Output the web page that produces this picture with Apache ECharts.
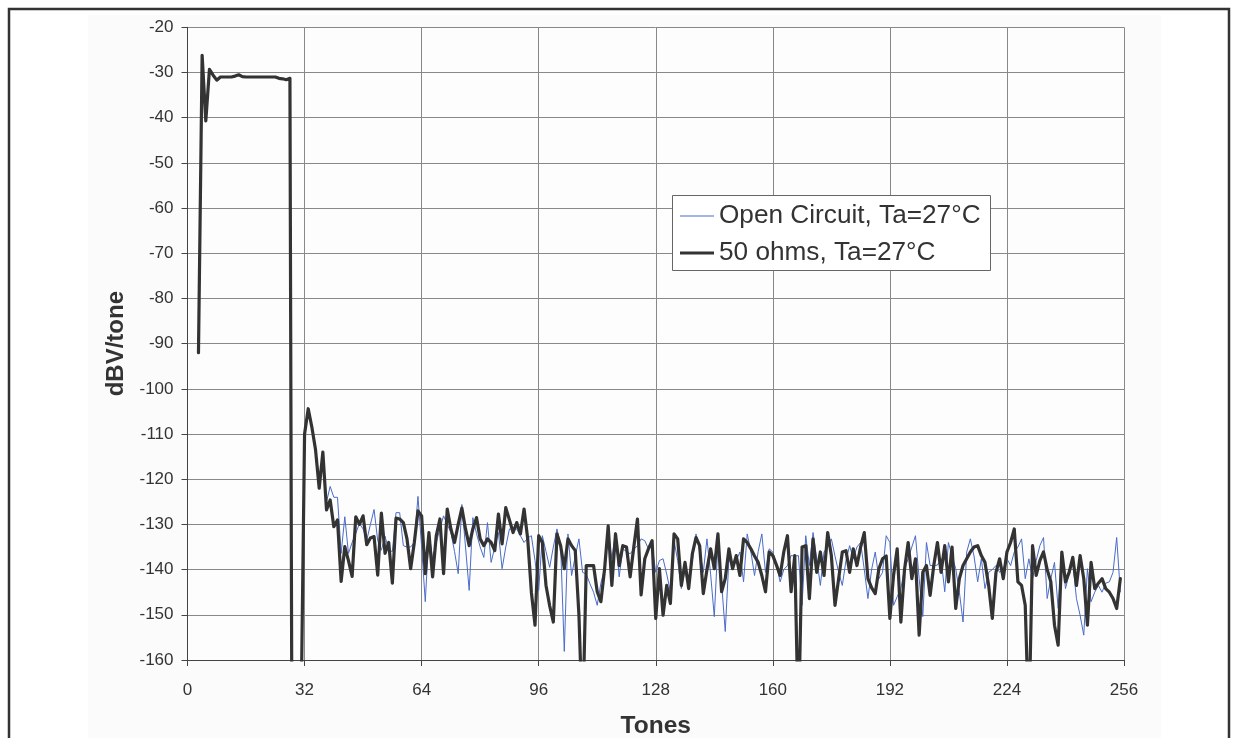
<!DOCTYPE html>
<html><head><meta charset="utf-8">
<script src="https://cdn.jsdelivr.net/npm/echarts@6/dist/echarts.min.js"></script>
<style>html,body{margin:0;padding:0;background:#fff}#c{width:1234px;height:738px}</style>
</head><body><div id="c"></div>
<script>
// Tone index 0..255
const tones = [];
for (let i = 0; i < 256; i++) tones.push(i);
const xTicks = [0, 32, 64, 96, 128, 160, 192, 224, 256];
const yTicks = [-20, -30, -40, -50, -60, -70, -80, -90, -100, -110, -120, -130, -140, -150, -160];
const seriesNames = ['Open Circuit, Ta=27°C', '50 ohms, Ta=27°C'];

const ohms50 = [
null,null,null,-92,-26.2,-40.7,-29.3,-30.6,-31.7,-31,-31,-31,-31,-30.8,-30.5,-30.9,
-31,-31,-31,-31,-31,-31,-31,-31,-31,-31.3,-31.4,-31.6,-31.3,-300,-300,-175,
-110,-104.4,-108.5,-113.5,-122,-114,-126.8,-124.6,-130.5,-129,-142.6,-134.9,-138,-141.5,-128.3,-130,
-128.1,-134.5,-133,-132.7,-141.2,-127.5,-136.4,-134,-143,-128.6,-128.8,-129.6,-133.2,-139.8,-134,-127,
-128.1,-140.9,-131.8,-141.6,-132.5,-128.8,-140.9,-126.6,-131,-134,-130,-126.4,-131,-134.7,-131,-128.5,
-133.2,-134.7,-133.2,-134,-135.8,-127.7,-134.3,-126.3,-129,-131.8,-129.6,-132.1,-126.6,-133.2,-145,-152.3,
-132.5,-134,-143.5,-148,-151.6,-132.1,-134.7,-139.8,-133.2,-134.7,-135.8,-150,-175,-139.1,-139.1,-139.1,
-144.9,-147.1,-140,-130.3,-143.5,-132.1,-139.1,-134.7,-135,-141.6,-135,-128.8,-145.6,-137.6,-135.4,-133.6,
-150.8,-139.8,-150.1,-143.5,-147.5,-132.1,-133.2,-143.5,-138.4,-144.2,-136.5,-132.9,-134.7,-145.3,-140,-135.4,
-139.8,-132.1,-144.9,-142,-135.4,-139.8,-136.9,-141.3,-133.2,-134,-135.4,-137,-138.4,-141.3,-144.9,-136.1,
-136.9,-139,-141.3,-136.1,-132.5,-144.9,-136.9,-175,-135,-134.7,-146.4,-133.2,-140.6,-136.1,-141.3,-131.8,
-136.9,-147.9,-142,-136.1,-135.8,-140.6,-135.4,-139.1,-135,-131.8,-142,-144,-145.3,-139.8,-137.6,-137,
-150.8,-141.3,-135.4,-151.6,-140,-134,-142,-137.6,-154.5,-140.6,-139.1,-145.7,-139.1,-134,-140.6,-134.7,
-142.7,-135,-148.6,-142,-139.1,-137.6,-136.1,-135,-134.7,-136.9,-138.4,-143.5,-150.8,-140.6,-137.6,-142,
-136.1,-134,-131,-142.7,-143.5,-147.9,-175,-134.7,-141.3,-138,-136.1,-140,-142.7,-152.3,-156.7,-136.1,
-142.7,-140.6,-137.3,-143.5,-136.9,-142,-152.3,-138.4,-144.2,-143,-142,-144.2,-145,-146.4,-148.6,-142
];

const openCircuit = [
null,null,null,-92,-26.2,-40.7,-29.3,-30.6,-31.7,-31,-31,-31,-31,-30.8,-30.5,-30.9,
-31,-31,-31,-31,-31,-31,-31,-31,-31,-31.3,-31.4,-31.6,-31.3,-300,-300,-175,
-110,-104.4,-108.5,-113.5,-122,-114,-125,-121.6,-124,-124,-136.4,-128.3,-136.4,-134,-132,-129.8,
-131,-133.5,-130,-126.7,-133.6,-135.7,-132.6,-135.7,-136,-127.4,-127.4,-134.7,-135,-135,-134,-123.8,
-135,-147.1,-131.8,-137.6,-134,-131,-128.1,-130,-131.8,-136,-140.9,-125.6,-135,-144.6,-128.5,-132,
-135,-137.3,-129.6,-138.4,-135,-131.8,-139.8,-135,-131,-131,-131,-132.5,-134,-133,-132.5,-138,
-144.6,-132.5,-136,-139.5,-135,-131,-134.7,-158.1,-132.1,-141.3,-137,-133.2,-140.6,-141,-143.1,-145,
-147.9,-143,-139.8,-132.1,-137.6,-131.8,-141.6,-135.4,-136,-136.5,-135.5,-134.7,-133.2,-133.6,-135.4,-134.7,
-140.6,-138,-137.6,-141,-144.9,-133.6,-138,-144.2,-140,-144.2,-138,-132.1,-136,-140.6,-133.2,-141,
-150.4,-134,-143,-153.7,-137.6,-139.8,-138,-136.1,-142.7,-132.1,-136,-141.3,-136,-132.1,-140.6,-135.4,
-136.1,-139,-142.7,-140,-139.1,-136.9,-137,-136.9,-147.9,-132.5,-139.1,-131.8,-137.6,-143.5,-136.1,-135,
-133.2,-137,-140.6,-143.5,-138,-134.7,-137.6,-135,-134,-140,-146.4,-140,-136.1,-142,-140.6,-132.5,
-134,-147.9,-146,-144.2,-139.8,-137.6,-135,-132.5,-142,-150.4,-134,-139.1,-139.1,-139,-137.6,-144.9,
-134,-137,-139.8,-145,-151.6,-136.1,-133.2,-137,-142.7,-137.6,-144.2,-140.6,-140,-139.1,-140.6,-139.8,
-137.6,-139.1,-136.1,-135,-133.2,-142,-137.6,-142,-138,-134.7,-132.9,-146.4,-142,-138.4,-148.6,-136.1,
-144.2,-141,-138.4,-146.4,-150.1,-154.5,-139.8,-147.1,-145,-143.5,-145,-143,-142.7,-140.6,-132.9,-145
];

function pairs(vals) {
  const out = [];
  for (let i = 0; i < tones.length; i++) {
    if (vals[i] !== null && vals[i] !== undefined) out.push([tones[i], vals[i]]);
  }
  return out;
}

const chart = echarts.init(document.getElementById('c'), null, {renderer: 'canvas'});
const font = 'Liberation Sans, Arial, sans-serif';
const legendText = {fontSize: 26.2, color: '#333', fontFamily: font, lineHeight: 30};
chart.setOption({
  animation: false,
  backgroundColor: '#ffffff',
  textStyle: {fontFamily: font},
  graphic: [
    {type: 'rect', z: -10, silent: true, shape: {x: 88, y: 15, width: 1073, height: 800}, style: {fill: '#fbfbfb'}},
    {type: 'rect', z: 3, silent: true, shape: {x: 672.5, y: 195.5, width: 318, height: 75}, style: {fill: '#ffffff', stroke: '#666', lineWidth: 1}},
    {type: 'rect', z: 100, silent: true, shape: {x: 9, y: 9, width: 1220, height: 800}, style: {fill: 'none', stroke: '#333', lineWidth: 2.5}}
  ],
  grid: {left: 187.5, right: 1234 - 1124, top: 27.3, bottom: 738 - 660, containLabel: false, outerBoundsMode: 'none',
         show: true, backgroundColor: '#fdfdfd', borderWidth: 0},
  legend: [
    {left: 680, top: 201, padding: 0, itemWidth: 34, itemHeight: 1.2, itemGap: 6, icon: 'rect',
     textStyle: legendText, data: [seriesNames[0]], z: 5},
    {left: 680, top: 238, padding: 0, itemWidth: 34, itemHeight: 3, itemGap: 6, icon: 'rect',
     textStyle: legendText, data: [seriesNames[1]], z: 5}
  ],
  xAxis: {
    type: 'value', min: xTicks[0], max: xTicks[xTicks.length - 1], interval: 32,
    name: 'Tones', nameLocation: 'middle', nameGap: 54,
    nameTextStyle: {fontSize: 24.5, fontWeight: 'bold', color: '#333', fontFamily: font},
    axisLine: {show: true, lineStyle: {color: '#444', width: 1}},
    axisTick: {show: true, inside: false, length: 6, lineStyle: {color: '#444'}},
    axisLabel: {fontSize: 17, color: '#333', margin: 22, fontFamily: font},
    splitLine: {show: true, lineStyle: {color: '#888', width: 1}}
  },
  yAxis: {
    type: 'value', min: yTicks[yTicks.length - 1], max: yTicks[0], interval: 10,
    name: 'dBV/tone', nameLocation: 'middle', nameGap: 55, nameRotate: 90,
    nameTextStyle: {fontSize: 24, fontWeight: 'bold', color: '#333', fontFamily: font},
    axisLine: {show: true, lineStyle: {color: '#444', width: 1}},
    axisTick: {show: true, inside: false, length: 6, lineStyle: {color: '#444'}},
    axisLabel: {fontSize: 17, color: '#333', margin: 14, fontFamily: font},
    splitLine: {show: true, lineStyle: {color: '#888', width: 1}}
  },
  series: [
    {name: seriesNames[0], type: 'line', data: pairs(openCircuit), symbol: 'none', clip: true,
     lineStyle: {color: '#4a6cc8', width: 1}, itemStyle: {color: '#4a6cc8'}, z: 2},
    {name: seriesNames[1], type: 'line', data: pairs(ohms50), symbol: 'none', clip: true,
     lineStyle: {color: '#333333', width: 3.2, join: 'round', cap: 'round'}, itemStyle: {color: '#333333'}, z: 3}
  ]
});
</script></body></html>
